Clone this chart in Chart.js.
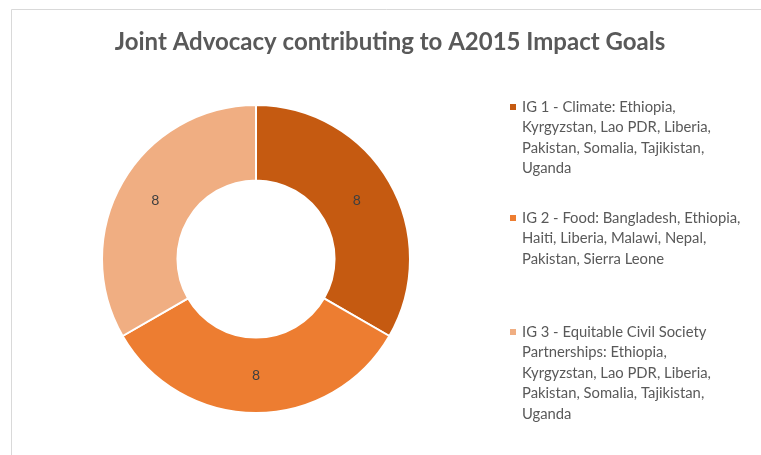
<!DOCTYPE html>
<html>
<head>
<meta charset="utf-8">
<script src="https://cdn.jsdelivr.net/npm/chart.js@4/dist/chart.umd.min.js"></script>
<style>
  html, body { margin: 0; padding: 0; background: #ffffff; }
  #wrap { position: relative; width: 761px; height: 455px; }
</style>
</head>
<body>
<div id="wrap"><canvas id="c" width="761" height="455"></canvas></div>
<script>
const chartTitle = "Joint Advocacy contributing to A2015 Impact Goals";
const categories = [
  ["IG 1 - Climate: Ethiopia,", "Kyrgyzstan, Lao PDR, Liberia,", "Pakistan, Somalia, Tajikistan,", "Uganda"],
  ["IG 2 - Food: Bangladesh, Ethiopia,", "Haiti, Liberia, Malawi, Nepal,", "Pakistan, Sierra Leone"],
  ["IG 3 - Equitable Civil Society", "Partnerships: Ethiopia,", "Kyrgyzstan, Lao PDR, Liberia,", "Pakistan, Somalia, Tajikistan,", "Uganda"]
];
const values = [8, 8, 8];
const colors = ["#C55A11", "#ED7D31", "#F0AE82"];

const FONT = "Lato, 'Open Sans', sans-serif";

const decorPlugin = {
  id: 'decor',
  beforeDraw(chart) {
    const ctx = chart.ctx;
    ctx.save();
    ctx.fillStyle = '#ffffff';
    ctx.fillRect(0, 0, chart.width, chart.height);
    ctx.strokeStyle = '#D9D9D9';
    ctx.lineWidth = 1;
    ctx.beginPath();
    ctx.moveTo(11.5, chart.height);
    ctx.lineTo(11.5, 9.5);
    ctx.lineTo(chart.width, 9.5);
    ctx.stroke();
    ctx.restore();
  },
  afterDraw(chart) {
    const ctx = chart.ctx;
    ctx.save();
    // title
    ctx.fillStyle = '#595959';
    ctx.font = "bold 24px " + FONT;
    ctx.textAlign = 'center';
    ctx.textBaseline = 'middle';
    ctx.fillText(chartTitle, 390, 42);

    // data labels
    const meta = chart.getDatasetMeta(0);
    ctx.font = "14px " + FONT;
    ctx.fillStyle = '#404040';
    meta.data.forEach((arc, i) => {
      const p = arc.tooltipPosition();
      ctx.fillText(String(chart.data.datasets[0].data[i]), p.x, p.y);
    });

    // legend
    const labels = chart.data.labels;
    const starts = [107, 218, 332];
    const lh = 20.5;
    ctx.textAlign = 'left';
    ctx.font = "14.8px " + FONT;
    labels.forEach((lines, i) => {
      const y0 = starts[i];
      ctx.fillStyle = colors[i];
      ctx.fillRect(510, y0 - 3, 6, 6);
      ctx.fillStyle = '#595959';
      lines.forEach((t, j) => ctx.fillText(t, 522, y0 + j * lh));
    });
    ctx.restore();
  }
};

new Chart(document.getElementById('c'), {
  type: 'doughnut',
  data: {
    labels: categories,
    datasets: [{
      data: values,
      backgroundColor: colors,
      borderColor: '#ffffff',
      borderWidth: 2
    }]
  },
  options: {
    responsive: false,
    animation: false,
    cutout: '51%',
    layout: { padding: { left: 101, right: 350, top: 104, bottom: 41 } },
    plugins: {
      legend: { display: false },
      title: { display: false },
      tooltip: { enabled: false }
    }
  },
  plugins: [decorPlugin]
});
</script>
</body>
</html>
